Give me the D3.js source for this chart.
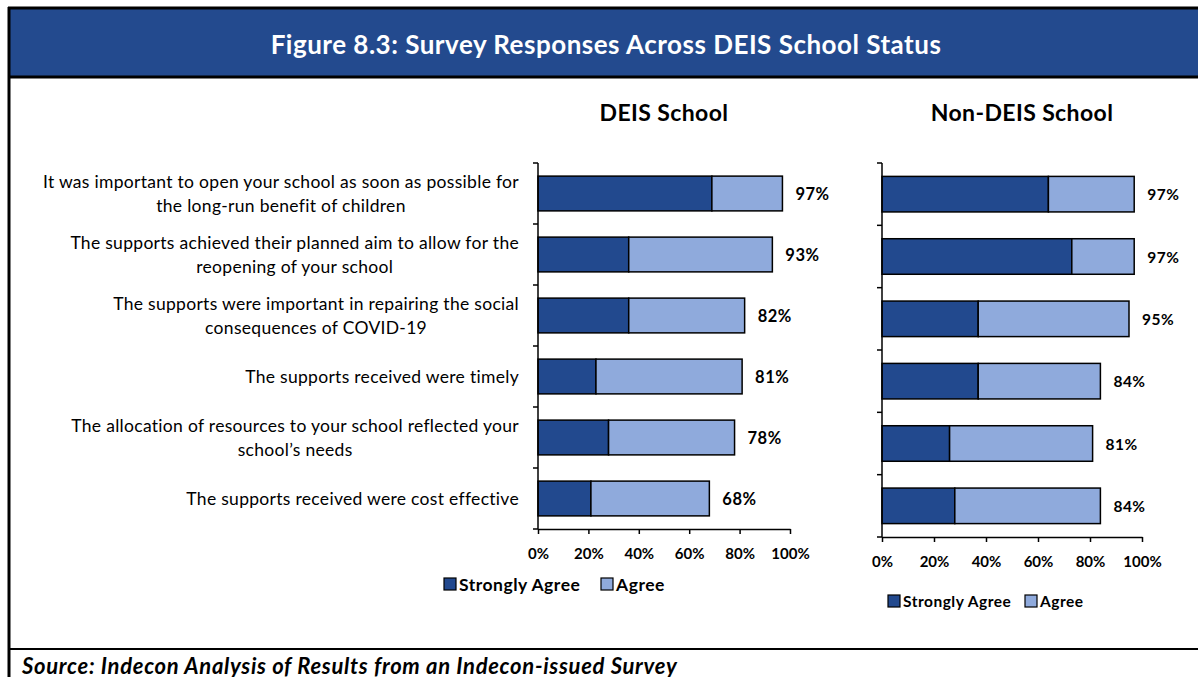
<!DOCTYPE html>
<html>
<head>
<meta charset="utf-8">
<script src="https://cdn.jsdelivr.net/npm/d3@7"></script>
<style>
  html, body { margin: 0; padding: 0; background: #fff; }
  svg { display: block; }
  text { font-family: Lato, "Open Sans", "Liberation Sans", sans-serif; }
</style>
</head>
<body>
<svg id="chart" width="1198" height="677"></svg>
<script>
// Survey statements (wrapped lines)
const statements = [
  ["It was important to open your school as soon as possible for", "the long-run benefit of children"],
  ["The supports achieved their planned aim to allow for the", "reopening of your school"],
  ["The supports were important in repairing the social", "consequences of COVID-19"],
  ["The supports received were timely"],
  ["The allocation of resources to your school reflected your", "school\u2019s needs"],
  ["The supports received were cost effective"]
];
const seriesNames = ["Strongly Agree", "Agree"];

// DEIS schools (% of respondents)
const deisStrongly = [69, 36, 36, 23, 28, 21];
const deisAgree    = [28, 57, 46, 58, 50, 47];

// Non-DEIS schools (% of respondents)
const nonDeisStrongly = [64, 73, 37, 37, 26, 28];
const nonDeisAgree    = [33, 24, 58, 47, 55, 56];

const tickValues = [0, 20, 40, 60, 80, 100];

const colors = { dark: "#22498E", light: "#8FAADC", header: "#234A8E" };

const svg = d3.select("#chart");

// Frame and header band
svg.append("rect").attr("x", 8).attr("y", 8).attr("width", 1198).attr("height", 69)
  .attr("fill", colors.header);
svg.append("line").attr("x1", 8).attr("x2", 1198).attr("y1", 8).attr("y2", 8)
  .attr("stroke", "#000").attr("stroke-width", 3);
svg.append("line").attr("x1", 8).attr("x2", 1198).attr("y1", 77).attr("y2", 77)
  .attr("stroke", "#000").attr("stroke-width", 3);
svg.append("line").attr("x1", 9).attr("x2", 9).attr("y1", 7).attr("y2", 677)
  .attr("stroke", "#000").attr("stroke-width", 3);
svg.append("line").attr("x1", 8).attr("x2", 1198).attr("y1", 649).attr("y2", 649)
  .attr("stroke", "#000").attr("stroke-width", 2);

svg.append("text").attr("x", 606).attr("y", 44)
  .attr("text-anchor", "middle").attr("dominant-baseline", "central")
  .attr("fill", "#fff").attr("font-weight", 700).attr("font-size", 26)
  .attr("letter-spacing", 0.5)
  .text("Figure 8.3: Survey Responses Across DEIS School Status");

svg.append("text").attr("x", 22).attr("y", 665)
  .attr("dominant-baseline", "central")
  .attr("font-weight", 700).attr("font-style", "italic").attr("font-size", 22)
  .attr("letter-spacing", 0.7)
  .text("Source: Indecon Analysis of Results from an Indecon-issued Survey");

function drawPanel(opts) {
  const { title, titleX, strongly, agree, x0, x1, y0, y1,
          legendX, legendY, legendGap, legendFont, valueFont, withLabels } = opts;
  const g = svg.append("g");
  const idx = d3.range(statements.length);

  const x = d3.scaleLinear().domain([0, 100]).range([x0, x1]);
  const y = d3.scaleBand().domain(idx).range([y0, y1])
    .paddingInner(0.43).paddingOuter(0.215);

  g.append("text").attr("x", titleX).attr("y", 112)
    .attr("text-anchor", "middle").attr("dominant-baseline", "central")
    .attr("font-weight", 700).attr("font-size", 23).attr("letter-spacing", 0.4)
    .text(title);

  const stack = d3.stack().keys([0, 1]).value((i, k) => (k === 0 ? strongly : agree)[i]);
  const layers = stack(idx);

  g.selectAll("g.layer").data(layers).join("g")
    .attr("class", "layer")
    .attr("fill", (d, k) => k === 0 ? colors.dark : colors.light)
    .selectAll("rect").data(d => d).join("rect")
      .attr("x", d => x(d[0]))
      .attr("y", d => y(d.data))
      .attr("width", d => x(d[1]) - x(d[0]))
      .attr("height", y.bandwidth())
      .attr("stroke", "#000").attr("stroke-width", 1.5);

  // Total agreement labels
  g.selectAll("text.total").data(idx).join("text")
    .attr("class", "total")
    .attr("x", i => x(strongly[i] + agree[i]) + 13)
    .attr("y", i => y(i) + y.bandwidth() / 2)
    .attr("dominant-baseline", "central")
    .attr("font-weight", 700).attr("font-size", valueFont).attr("letter-spacing", 0.5)
    .text(i => (strongly[i] + agree[i]) + "%");

  // Category axis line with ticks between bands
  g.append("line").attr("x1", x0).attr("x2", x0).attr("y1", y0).attr("y2", y1)
    .attr("stroke", "#000").attr("stroke-width", 1.5);
  const step = y.step();
  g.append("g").selectAll("line").data(d3.range(statements.length + 1)).join("line")
    .attr("x1", x0 - 5).attr("x2", x0)
    .attr("y1", k => y0 + k * step).attr("y2", k => y0 + k * step)
    .attr("stroke", "#000").attr("stroke-width", 1.5);

  // Value axis
  const xAxisG = g.append("g").attr("transform", `translate(0,${y1})`)
    .call(d3.axisBottom(x).tickValues(tickValues).tickSize(5).tickSizeOuter(0)
      .tickFormat(v => v + "%"));
  xAxisG.select(".domain").attr("stroke", "#000").attr("stroke-width", 1.5);
  xAxisG.selectAll(".tick line").attr("stroke", "#000").attr("stroke-width", 1.5);
  xAxisG.selectAll(".tick text")
    .attr("y", 24).attr("dy", null).attr("dominant-baseline", "central")
    .attr("font-family", "Lato, sans-serif")
    .attr("font-weight", 700).attr("font-size", 15).attr("fill", "#000");

  if (withLabels) {
    const right = x0 - 19;
    idx.forEach(i => {
      const lines = statements[i];
      const cy = y(i) + y.bandwidth() / 2;
      const t = g.append("text").attr("font-size", 17.5).attr("letter-spacing", 0.3)
        .attr("fill", "#000");
      const spans = lines.map((ln, j) => t.append("tspan")
        .attr("y", cy + (j - (lines.length - 1) / 2) * 24)
        .attr("dominant-baseline", "central")
        .text(ln));
      const widths = spans.map(s => s.node().getComputedTextLength());
      const cx = right - d3.max(widths) / 2;
      t.attr("text-anchor", "middle");
      spans.forEach(s => s.attr("x", cx));
    });
  }

  // Legend
  const lg = g.append("g").attr("transform", `translate(${legendX},${legendY})`);
  const offs = [0, legendGap];
  seriesNames.forEach((name, k) => {
    lg.append("rect").attr("x", offs[k]).attr("y", -6).attr("width", 12).attr("height", 12)
      .attr("fill", k === 0 ? colors.dark : colors.light)
      .attr("stroke", "#000").attr("stroke-width", 1.2);
    lg.append("text").attr("x", offs[k] + 15).attr("y", 0)
      .attr("dominant-baseline", "central")
      .attr("font-weight", 700).attr("font-size", legendFont).attr("letter-spacing", 0.5)
      .text(name);
  });
}

drawPanel({
  title: "DEIS School", titleX: 664,
  strongly: deisStrongly, agree: deisAgree,
  x0: 538, x1: 790, y0: 163, y1: 529,
  legendX: 444, legendY: 584, legendGap: 157, legendFont: 17.5, valueFont: 16.5,
  withLabels: true
});

drawPanel({
  title: "Non-DEIS School", titleX: 1022,
  strongly: nonDeisStrongly, agree: nonDeisAgree,
  x0: 882, x1: 1142, y0: 163, y1: 537,
  legendX: 888, legendY: 601, legendGap: 137, legendFont: 15.5, valueFont: 15.5,
  withLabels: false
});
</script>
</body>
</html>
